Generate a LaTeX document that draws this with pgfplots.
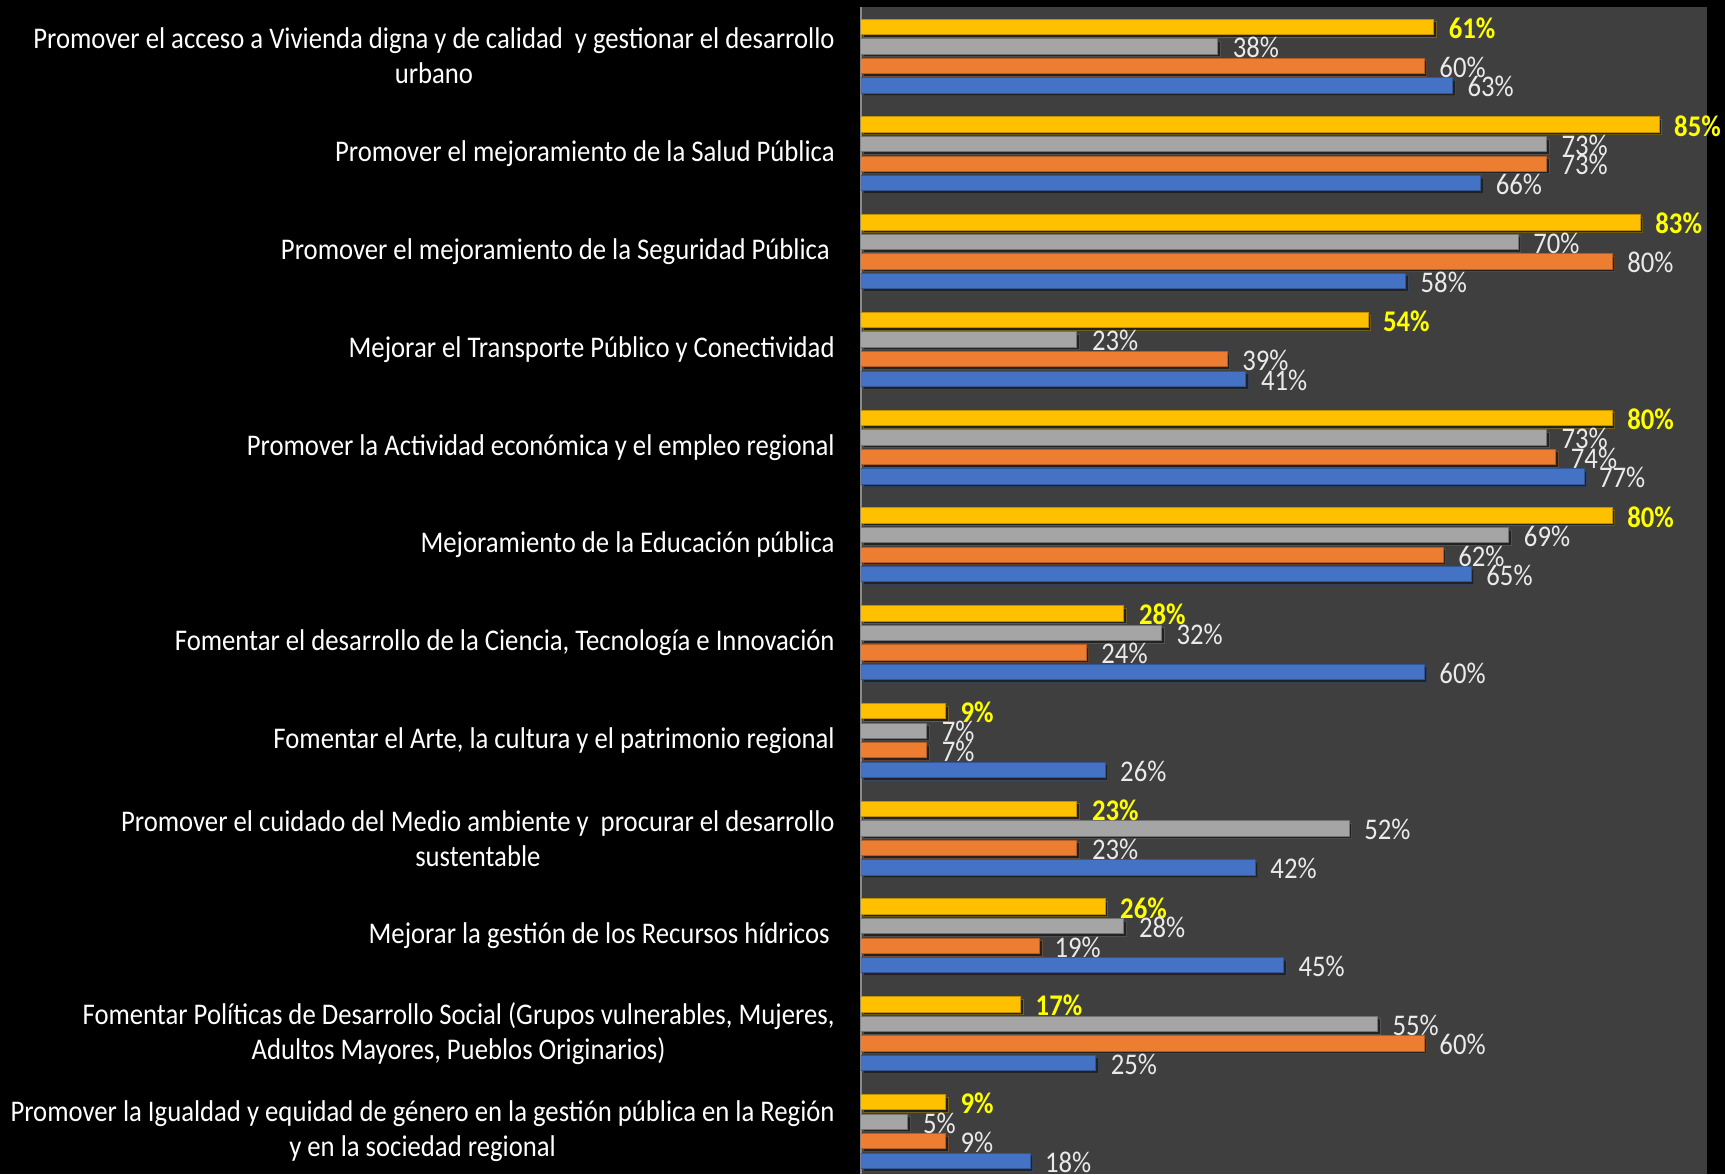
\documentclass[border=0pt]{standalone}
\usepackage{pgfplots}
\pgfplotsset{compat=1.18}
\usepackage{pgfplotstable}
\usepackage{fontspec}
\setmainfont{Carlito}[FakeStretch=0.89]
\definecolor{cyel}{HTML}{FFC000}
\definecolor{cgry}{HTML}{A5A5A5}
\definecolor{cora}{HTML}{ED7D31}
\definecolor{cblu}{HTML}{4472C4}
\definecolor{plotbg}{HTML}{3F3F3F}
\definecolor{axline}{HTML}{8A8A8A}
\definecolor{lbl}{HTML}{EAEAEA}
\definecolor{ylbl}{HTML}{FFFF00}

\pgfplotstableread{
pos yel gry ora blu
11 61 38 60 63
10 85 73 73 66
9 83 70 80 58
8 54 23 39 41
7 80 73 74 77
6 80 69 62 65
5 28 32 24 60
4 9 7 7 26
3 23 52 23 42
2 26 28 19 45
1 17 55 60 25
0 9 5 9 18
}\datatab

\begin{document}
\begin{tikzpicture}
\fill[black] (0,0) rectangle (862.5pt,587pt);
\begin{axis}[
  at={(430.5pt,0pt)}, anchor=south west,
  scale only axis,
  width=423pt, height=583.65pt,
  xbar,
  xmin=0, xmax=90.1,
  ymin=-0.435, ymax=11.506,
  axis x line=none,
  axis y line*=left,
  y axis line style={draw=axline, line width=0.8pt},
  axis background/.style={fill=plotbg},
  xtick=\empty,
  ytick={0,...,11},
  major tick length=0pt,
  yticklabels={
    {Promover la Igualdad y equidad de género en la gestión pública en la Región\\y en la sociedad regional},
    {Fomentar Políticas de Desarrollo Social (Grupos vulnerables, Mujeres,\\Adultos Mayores, Pueblos Originarios)},
    {Mejorar la gestión de los Recursos hídricos\hspace{2.5pt}},
    {Promover el cuidado del Medio ambiente y~ procurar el desarrollo\\sustentable},
    {Fomentar el Arte, la cultura y el patrimonio regional},
    {Fomentar el desarrollo de la Ciencia, Tecnología e Innovación},
    {Mejoramiento de la Educación pública},
    {Promover la Actividad económica y el empleo regional},
    {Mejorar el Transporte Público y Conectividad},
    {Promover el mejoramiento de la Seguridad Pública\hspace{2.5pt}},
    {Promover el mejoramiento de la Salud Pública},
    {Promover el acceso a Vivienda digna y de calidad~ y gestionar el desarrollo\\urbano}
  },
  yticklabel style={font=\fontsize{15}{17.5}\selectfont, text=white, align=center, anchor=east, inner sep=0pt, xshift=-13pt},
  bar width=0.157,
  point meta=x,
  nodes near coords={\pgfmathprintnumber[assume math mode=true]{\pgfplotspointmeta}\%},
  nodes near coords style={font=\fontsize{15}{17.5}\selectfont, text=lbl, anchor=west, inner sep=0pt, xshift=7.3pt, yshift=-0.6pt},
  every axis plot/.append style={line width=0.5pt,
     preaction={fill=black, opacity=0.45, transform canvas={xshift=1.3pt, yshift=-1.3pt}}},
]
\addplot[fill=cyel, draw=cyel!75!black, bar shift=0.3,
  nodes near coords style={text=ylbl, font=\fontsize{15}{17.5}\selectfont\bfseries}]
  table[x=yel, y=pos] {\datatab};
\addplot[fill=cgry, draw=cgry!70!black, bar shift=0.1] table[x=gry, y=pos] {\datatab};
\addplot[fill=cora, draw=cora!75!black, bar shift=-0.1] table[x=ora, y=pos] {\datatab};
\addplot[fill=cblu, draw=cblu!75!black, bar shift=-0.3] table[x=blu, y=pos] {\datatab};
\end{axis}
\pgfresetboundingbox
\useasboundingbox (0,0) rectangle (862.5pt,587pt);
\end{tikzpicture}
\end{document}
